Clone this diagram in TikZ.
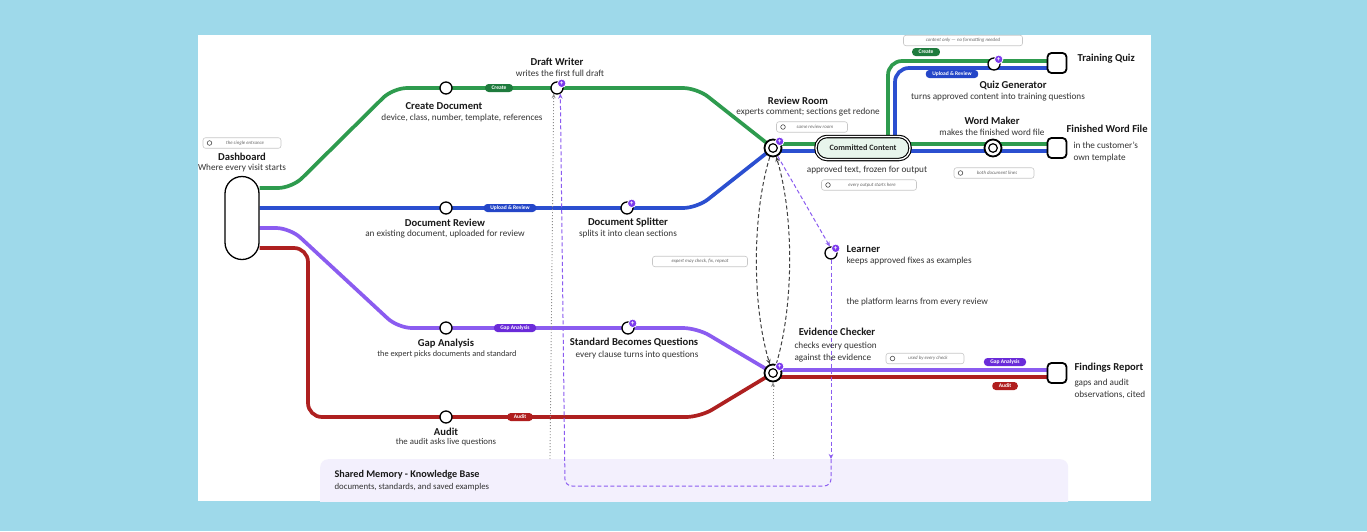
\documentclass[tikz,border=0pt]{standalone}
\usepackage{fontspec}
\setmainfont{Carlito}
\usetikzlibrary{arrows.meta,backgrounds}
\definecolor{skybg}{HTML}{9ED9EA}
\definecolor{lgreen}{HTML}{2E9B4E}
\definecolor{lblue}{HTML}{2B4FD0}
\definecolor{lviolet}{HTML}{8B5CF0}
\definecolor{lred}{HTML}{AE2020}
\definecolor{pgreen}{HTML}{1E7B3D}
\definecolor{pblue}{HTML}{2446C8}
\definecolor{pviolet}{HTML}{6A2BD9}
\definecolor{pred}{HTML}{B01E1E}
\definecolor{badgeviolet}{HTML}{7C3AED}
\definecolor{memfill}{HTML}{F3F0FD}
\definecolor{commitfill}{HTML}{E8F5EC}
\tikzset{
  mline/.style={line width=3.7pt, rounded corners=14pt},
  stopdot/.style={circle, draw, fill=white, line width=1.3pt, minimum size=12pt, inner sep=0pt},
  hubdot/.style={circle, draw, fill=white, line width=1.8pt, minimum size=17pt, inner sep=0pt,
    path picture={\draw[line width=1.2pt] (path picture bounding box.center) circle (4.3pt);}},
  badge/.style={circle, fill=badgeviolet, draw=white, line width=0.8pt, minimum size=8.5pt, inner sep=0pt,
    text=white, font=\fontsize{7}{7}\selectfont\bfseries},
  endbox/.style={rectangle, rounded corners=4pt, draw, fill=white, line width=1.8pt, minimum width=19pt, minimum height=20pt},
  linepill/.style={rounded corners=3.5pt, minimum height=8pt, inner ysep=1.2pt, inner xsep=6.5pt, text=white,
    font=\fontsize{5.5}{6}\selectfont\bfseries},
  notebox/.style={rounded corners=2.5pt, draw=black!22, fill=white, line width=0.6pt, minimum height=10.5pt,
    inner sep=1pt, text=black!60, font=\fontsize{4.9}{5}\selectfont\itshape},
  noteicon/.style={notebox, path picture={\draw[black!70,line width=.6pt] ([xshift=6.5pt]path picture bounding box.west) circle (2.3pt);}},
  ttl/.style={font=\fontsize{10.6}{12}\selectfont\bfseries, text=black!90},
  subl/.style={font=\fontsize{9.2}{12}\selectfont, text=black!80},
  dotlink/.style={black!45, line width=0.9pt, dash pattern=on 1pt off 2pt, -{Stealth[length=4.5pt,width=4pt]}},
  checklink/.style={black!75, line width=1pt, dash pattern=on 4pt off 2.5pt, -{Stealth[length=5pt,width=4.5pt]}},
  learnlink/.style={lviolet, line width=1pt, dash pattern=on 4pt off 2.5pt, -{Stealth[length=5pt,width=4.5pt]}},
}
\begin{document}
\begin{tikzpicture}[x=1pt,y=-1pt]
\useasboundingbox (0,0) rectangle (1367,531);

\node[rectangle, rounded corners=17pt, draw, fill=white, line width=1.3pt, minimum width=34pt, minimum height=83pt] (dashboard) at (242,218) {};
\foreach \n/\p in {create/{446,88}, draft/{557,88}, docrev/{446,208}, split/{627,208}, gap/{446,328},
  stdq/{628,328}, audit/{446,417}, learn/{831,253}, quiz/{994,64}}
  \node[stopdot] (\n) at (\p) {};
\node[hubdot] (review) at (773,148) {};
\node[hubdot] (evid) at (773,373) {};
\node[hubdot] (word) at (993,148) {};
\node[endbox] (trainq) at (1057,63) {};
\node[endbox] (wordfile) at (1057,148) {};
\node[endbox] (report) at (1057,373) {};
\foreach \s in {draft,split,stdq,learn,quiz,review,evid}
  \node[badge] (b\s) at (\s.45) {+};

\node[rectangle, rounded corners=11pt, draw=black, double=white, line width=1.1pt, double distance=1.3pt,
  fill=commitfill, minimum width=94pt, minimum height=23pt, text=black!85,
  font=\fontsize{8.2}{9}\selectfont\bfseries] (commit) at (863,148) {Committed Content};

\node[linepill, fill=pgreen] (pcreate) at (499,88) {Create};
\node[linepill, fill=pblue] (pupload) at (510,208) {Upload \& Review};
\node[linepill, fill=pviolet] (pgap) at (515,328) {Gap Analysis};
\node[linepill, fill=pred] (paudit) at (520,417) {Audit};
\node[linepill, fill=pgreen] (pcreatetwo) at (926,52) {Create};
\node[linepill, fill=pblue] (puploadtwo) at (952,74) {Upload \& Review};
\node[linepill, fill=pviolet] (pgaptwo) at (1005,362) {Gap Analysis};
\node[linepill, fill=pred] (paudittwo) at (1005,386) {Audit};

\node[noteicon, minimum width=78pt] (nentry) at (242,143) {\hspace{6pt}the single entrance};
\node[noteicon, minimum width=71pt] (nsame) at (812,127) {\hspace{6pt}same review room};
\node[noteicon, minimum width=95pt] (nout) at (869,185) {\hspace{6pt}every output starts here};
\node[noteicon, minimum width=80pt] (nboth) at (994,173) {\hspace{6pt}both document lines};
\node[noteicon, minimum width=78pt] (nused) at (925,358.5) {\hspace{6pt}used by every check};
\node[notebox, minimum width=95pt] (ncheck) at (700,261.5) {expert may check, fix, repeat};
\node[notebox, minimum width=119pt] (ncontent) at (963,40.5) {content only --- no formatting needed};

\node[ttl] (tdash) at (242,157) {Dashboard};
\node[subl] (sdash) at (242,168) {Where every visit starts};
\node[ttl] (tcreate) at (444,106) {Create Document};
\node[subl] (screate) at (462,118) {device, class, number, template, references};
\node[ttl] (tdraft) at (557,62) {Draft Writer};
\node[subl] (sdraft) at (560,73) {writes the first full draft};
\node[ttl] (tdocrev) at (445,223) {Document Review};
\node[subl] (sdocrev) at (445,234) {an existing document, uploaded for review};
\node[ttl] (tsplit) at (628,223) {Document Splitter};
\node[subl] (ssplit) at (628,234) {splits it into clean sections};
\node[ttl] (tgap) at (446,344) {Gap Analysis};
\node[subl, font=\fontsize{8.3}{10}\selectfont] (sgap) at (447,354) {the expert picks documents and standard};
\node[ttl] (taudit) at (446,432) {Audit};
\node[subl, font=\fontsize{8.8}{10}\selectfont] (saudit) at (446,442) {the audit asks live questions};
\node[ttl] (tstd) at (634,342) {Standard Becomes Questions};
\node[subl] (sstd) at (637,355) {every clause turns into questions};
\node[ttl] (treview) at (798,101) {Review Room};
\node[subl] (sreview) at (808,112) {experts comment; sections get redone};
\node[subl] (scommit) at (867,170) {approved text, frozen for output};
\node[ttl] (tword) at (992,121) {Word Maker};
\node[subl] (sword) at (992,132) {makes the finished word file};
\node[ttl] (tquiz) at (1013,85) {Quiz Generator};
\node[subl] (squiz) at (998,97) {turns approved content into training questions};
\node[ttl, anchor=west] (ttrain) at (1074,59) {Training Quiz};
\node[ttl, anchor=west] (tfile) at (1063,129) {Finished Word File};
\node[subl, anchor=north west, align=left] (sfile) at (1070,138) {in the customer's\\own template};
\node[ttl, anchor=west] (tlearn) at (843,249) {Learner};
\node[subl, anchor=west] (slearn) at (843,261) {keeps approved fixes as examples};
\node[subl, anchor=west] (splat) at (843,302) {the platform learns from every review};
\node[ttl] (tevid) at (837,332) {Evidence Checker};
\node[subl, anchor=north west, align=left] (sevid) at (791,339) {checks every question\\against the evidence};
\node[ttl, anchor=west] (treport) at (1071,368) {Findings Report};
\node[subl, anchor=north west, align=left] (sreport) at (1071,376) {gaps and audit\\observations, cited};
\node[ttl, font=\fontsize{10.2}{12}\selectfont\bfseries, anchor=west] (tmem) at (331,475) {Shared Memory - Knowledge Base};
\node[subl, font=\fontsize{8.8}{10}\selectfont, anchor=west] (smem) at (331,487) {documents, standards, and saved examples};

\begin{scope}[on background layer]
\fill[skybg] (0,0) rectangle (1367,531);
\fill[white] (198,35) rectangle (1151,501);
\begin{scope}
\clip (198,35) rectangle (1151,501);
\node[rectangle, rounded corners=8pt, fill=memfill, anchor=north west, minimum width=748pt, minimum height=60pt] (memory) at (320,459) {};
\end{scope}

\draw[mline, lgreen] (dashboard.east |- 0,188) -- (292,188) -- (393,88) -- (697,88) -- (review.center);
\draw[mline, lblue] (dashboard.east |- 0,208) -- (697,208) -- (review.center);
\draw[mline, lviolet] (dashboard.east |- 0,228) -- (290,228) -- (398,328) -- (697,328) -- (evid.center);
\draw[mline, lred] (dashboard.east |- 0,248) -- (308,248) -- (308,417) -- (700,417) -- (evid.center);
\draw[mline, lblue] (review.center |- 0,151) -- (wordfile.center |- 0,151);
\draw[mline, lblue] (895,151) -- (895,68) -- (trainq.center |- 0,68);
\draw[mline, lgreen] (review.center |- 0,144) -- (wordfile.center |- 0,144);
\draw[mline, lgreen] (888,144) -- (888,61) -- (trainq.center |- 0,61);
\draw[mline, lviolet] (evid.center |- 0,370) -- (report.center |- 0,370);
\draw[mline, lred] (evid.center |- 0,377) -- (report.center |- 0,377);

\draw[dotlink] (memory.north -| 550,0) -- (draft.240);
\draw[dotlink] (memory.north -| evid) -- (evid.south);
\draw[checklink] (review.250) .. controls (752,215) and (752,305) .. (evid.110);
\draw[checklink] (evid.70) .. controls (794,305) and (794,215) .. (review.290);
\draw[learnlink] (review.-60) -- (learn.100);
\draw[learnlink] (learn.south) -- (memory.north -| learn);
\draw[learnlink, rounded corners=7pt] (memory.north -| learn) -- (learn |- 0,486) -- (565,486) -- (draft.300);
\end{scope}
\end{tikzpicture}
\end{document}
